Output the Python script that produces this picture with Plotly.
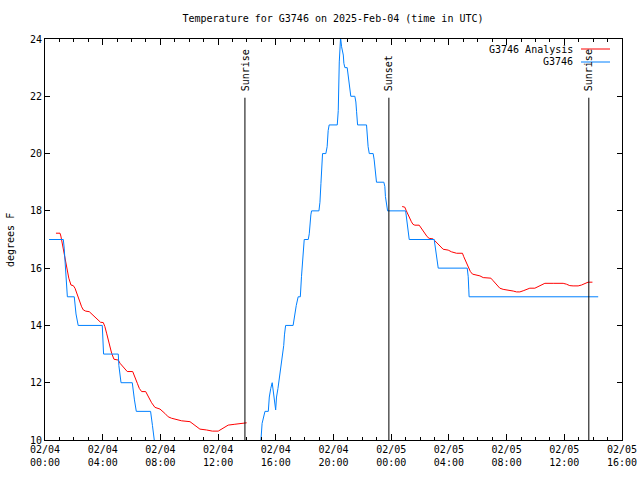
import plotly.graph_objects as go

# Hours since 2025-02-04 00:00 UTC
obs_hours = [0.28, 1.27, 1.33, 1.45, 1.5, 1.55, 2.03, 2.1, 2.15, 2.3, 3.97, 4.06, 5.08, 5.12, 5.2, 5.27,
             6.05, 6.1, 6.2, 6.33, 7.32, 7.45, 7.7, 14.85, 14.97, 15.05, 15.25, 15.48, 15.55, 15.65, 15.75,
             15.99, 16.05, 16.15, 16.25, 16.35, 16.45, 16.55, 16.6, 16.68, 17.2, 17.3, 17.42, 17.55, 17.7,
             17.78, 17.9, 17.97, 18.25, 18.32, 18.43, 18.48, 18.99, 19.06, 19.13, 19.18, 19.24, 19.47,
             19.56, 19.63, 19.7, 20.26, 20.33, 20.4, 20.45, 20.49, 20.56, 20.68, 20.72, 20.79, 20.95,
             21.02, 21.14, 21.2, 21.48, 21.55, 21.6, 21.67, 22.29, 22.33, 22.4, 22.48, 22.75, 22.82,
             22.86, 22.93, 22.98, 23.49, 23.56, 23.6, 23.67, 23.75, 25.0, 25.07, 25.18, 25.25, 26.98,
             27.07, 27.14, 27.26, 29.27, 29.34, 29.38, 29.4, 38.35]
obs_temps = [17, 17, 16.7, 15.9, 15.4, 15, 15, 14.7, 14.4, 14, 14, 13, 13, 12.6, 12.3, 12,
             12, 11.7, 11.4, 11, 11, 10.5, 9.5, 9.5, 10, 10.58, 11, 11, 11.5, 11.8, 12,
             11.05, 11.5, 11.8, 12.15, 12.44, 12.8, 13.3, 13.67, 14, 14, 14.36, 14.7, 15, 15,
             15.7, 16.7, 17, 17, 17.2, 17.86, 18, 18, 18.3, 18.96, 19.66, 20, 20,
             20.24, 20.8, 21, 21, 21.5, 23.2, 23.85, 24.05, 23.73, 23.44, 23.15, 23, 23,
             22.74, 22.4, 22, 22, 21.8, 21.46, 21, 21, 20.53, 20.24, 20, 20, 19.78,
             19.5, 19.2, 19, 19, 18.85, 18.5, 18.15, 18, 18, 17.68, 17.33, 17, 17,
             16.63, 16.34, 16, 16, 15.7, 15.24, 15, 15]

ana_hours = [0.76, 1.04, 1.1, 1.17, 1.24, 1.31, 1.42, 1.54, 1.65, 1.8, 1.96, 2.08, 2.2, 2.31, 2.43,
             2.54, 2.66, 2.82, 3.07, 3.23, 3.46, 3.69, 3.85, 4.04, 4.15, 4.27, 4.39, 4.5, 4.62, 4.78,
             5.08, 5.2, 5.38, 5.54, 5.7, 6.08, 6.24, 6.4, 6.54, 6.7, 6.98, 7.16, 7.39, 7.62, 7.97,
             8.31, 8.54, 8.77, 9.13, 9.47, 10.05, 10.39, 10.74, 11.2, 11.6, 12.01, 12.24, 12.47,
             12.7, 13.16, 13.5, 13.98, None,
             24.76, 24.94, 25.05, 25.17, 25.28, 25.4, 25.51, 25.64, 25.94, 26.03, 26.17, 26.33,
             26.49, 26.63, 26.91, 27.02, 27.18, 27.37, 27.6, 27.95, 28.18, 28.53, 28.94, 29.03,
             29.17, 29.33, 29.49, 29.64, 29.92, 30.15, 30.38, 30.61, 30.91, 31.07, 31.3, 31.53,
             31.76, 32.11, 32.46, 32.69, 32.92, 33.15, 33.38, 33.61, 33.96, 34.19, 34.42, 34.65,
             35.23, 35.92, 36.15, 36.38, 36.61, 36.96, 37.19, 37.42, 37.65, 37.95]
ana_temps = [17.22, 17.22, 17.12, 16.93, 16.69, 16.46, 16.17, 15.94, 15.65, 15.41, 15.39, 15.3, 15.12,
             14.95, 14.79, 14.65, 14.54, 14.5, 14.48, 14.4, 14.27, 14.19, 14.11, 14.1, 13.96, 13.73,
             13.49, 13.26, 13.03, 12.82, 12.79, 12.68, 12.56, 12.47, 12.39, 12.39, 12.21, 11.98, 11.8,
             11.69, 11.69, 11.51, 11.3, 11.14, 11.08, 10.93, 10.81, 10.76, 10.72, 10.67, 10.64, 10.52,
             10.38, 10.35, 10.31, 10.31, 10.38, 10.47, 10.52, 10.55, 10.58, 10.6, None,
             18.15, 18.13, 18.0, 17.86, 17.7, 17.62, 17.53, 17.5, 17.5, 17.43, 17.33, 17.22,
             17.1, 17.04, 17.02, 16.96, 16.87, 16.75, 16.66, 16.63, 16.57, 16.52, 16.52, 16.4,
             16.23, 16.03, 15.88, 15.79, 15.76, 15.73, 15.67, 15.65, 15.65, 15.56, 15.41, 15.3,
             15.26, 15.24, 15.2, 15.17, 15.17, 15.21, 15.26, 15.3, 15.3, 15.35, 15.41, 15.47,
             15.47, 15.47, 15.44, 15.39, 15.38, 15.38, 15.41, 15.47, 15.51, 15.51]

event_hours = [13.86, 23.84, 37.7]
event_labels = ["Sunrise", "Sunset", "Sunrise"]

tick_hours = [0, 4, 8, 12, 16, 20, 24, 28, 32, 36, 40]
tick_labels = ["02/04<br>00:00", "02/04<br>04:00", "02/04<br>08:00", "02/04<br>12:00",
               "02/04<br>16:00", "02/04<br>20:00", "02/05<br>00:00", "02/05<br>04:00",
               "02/05<br>08:00", "02/05<br>12:00", "02/05<br>16:00"]
y_ticks = [10, 12, 14, 16, 18, 20, 22, 24]

series_names = ["G3746 Analysis", "G3746"]
series_colors = ["#ff0000", "#0080ff"]

FONT = "DejaVu Sans Mono"
L, R, T, B = 45, 18, 39, 40
PW, PH = 640 - L - R, 480 - T - B


def px_x(p):
    return (p - L) / PW


def px_y(p):
    return 1 - (p - T) / PH


fig = go.Figure()
fig.add_trace(go.Scatter(x=ana_hours, y=ana_temps, mode="lines", name=series_names[0],
                         line=dict(color=series_colors[0], width=1), connectgaps=False))
fig.add_trace(go.Scatter(x=obs_hours, y=obs_temps, mode="lines", name=series_names[1],
                         line=dict(color=series_colors[1], width=1)))

shapes = []
annotations = []
for h, lab in zip(event_hours, event_labels):
    shapes.append(dict(type="line", xref="x", yref="y", x0=h, x1=h, y0=10, y1=21.95,
                       line=dict(color="black", width=1)))
    annotations.append(dict(x=h, y=22.1, xref="x", yref="y", text=lab, textangle=-90,
                            showarrow=False, xanchor="center", yanchor="bottom",
                            font=dict(family=FONT, size=10, color="black")))

# Gnuplot-style legend (text left of sample line)
for i, (name, col) in enumerate(zip(series_names, series_colors)):
    ypix = 49 + 13 * i
    annotations.append(dict(x=px_x(575), y=px_y(ypix), xref="paper", yref="paper", text=name,
                            showarrow=False, xanchor="right", yanchor="middle",
                            font=dict(family=FONT, size=10, color="black")))
    shapes.append(dict(type="line", xref="paper", yref="paper", x0=px_x(581), x1=px_x(610),
                       y0=px_y(ypix), y1=px_y(ypix), line=dict(color=col, width=1)))

annotations.append(dict(x=px_x(10), y=px_y(240), xref="paper", yref="paper", text="degrees F",
                        textangle=-90, showarrow=False, xanchor="center", yanchor="middle",
                        font=dict(family=FONT, size=10, color="black")))

fig.update_layout(
    template="none",
    width=640, height=480,
    margin=dict(l=L, r=R, t=T, b=B, autoexpand=False),
    paper_bgcolor="white", plot_bgcolor="white",
    showlegend=False,
    hovermode=False,
    title=dict(text="Temperature for G3746 on 2025-Feb-04 (time in UTC)", x=333 / 640, xanchor="center",
               y=1 - 18 / 480, yanchor="middle", font=dict(family=FONT, size=10, color="black")),
    font=dict(family=FONT, size=10, color="black"),
    shapes=shapes, annotations=annotations,
)
fig.update_xaxes(range=[0, 40], tickvals=tick_hours, ticktext=tick_labels, ticks="inside",
                 ticklen=6, tickcolor="black", showline=True, linecolor="black", linewidth=1,
                 mirror="ticks", showgrid=False, zeroline=False, automargin=False,
                 minor=dict(dtick=1, ticks="inside", ticklen=3, tickcolor="black", showgrid=False),
                 tickfont=dict(family=FONT, size=10, color="black"))
fig.update_yaxes(range=[10, 24], tickvals=y_ticks, ticks="inside", ticklen=5, tickcolor="black",
                 showline=True, linecolor="black", linewidth=1, mirror="ticks", showgrid=False,
                 zeroline=False, automargin=False, tickfont=dict(family=FONT, size=10, color="black"))

fig.write_html("out.html", config={"displayModeBar": False, "staticPlot": True},
               post_script="document.body.style.margin='0';")
